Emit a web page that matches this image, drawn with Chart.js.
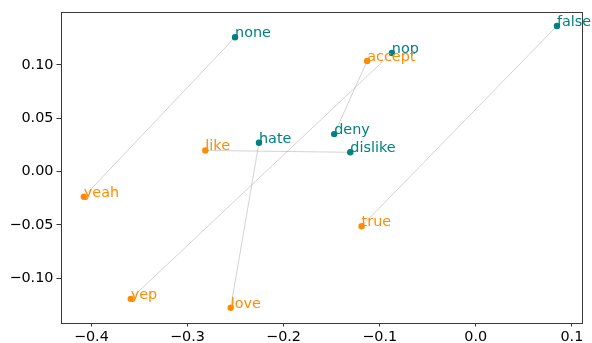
<!DOCTYPE html>
<html>
<head>
<meta charset="utf-8">
<script src="https://cdn.jsdelivr.net/npm/chart.js@4/dist/chart.umd.min.js"></script>
<style>
html,body{margin:0;padding:0;background:#fff;}
canvas{display:block;}
</style>
</head>
<body>
<canvas id="c" width="592" height="343"></canvas>
<script>
const words = ["none","false","nop","deny","hate","dislike","accept","like","yeah","true","yep","love"];
const xs = [-0.2505, 0.0845, -0.0873, -0.1473, -0.2256, -0.1306, -0.1130, -0.2814, -0.4078, -0.1188, -0.3590, -0.2550];
const ys = [0.1260, 0.1366, 0.1113, 0.0352, 0.0271, 0.0181, 0.1038, 0.0199, -0.0235, -0.0512, -0.1193, -0.1277];
const groups = ["neg","neg","neg","neg","neg","neg","pos","pos","pos","pos","pos","pos"];
const pairs = [["none","yeah"],["false","true"],["nop","yep"],["accept","deny"],["like","dislike"],["hate","love"]];
const xTicks = [-0.4, -0.3, -0.2, -0.1, 0.0, 0.1];
const yTicks = [-0.10, -0.05, 0.00, 0.05, 0.10];

const colors = {neg: "#008080", pos: "#ff8c00"};
const FONT = "DejaVu Sans";

function pointsOf(g){
  const out = [];
  words.forEach((w,i)=>{ if(groups[i]===g) out.push({x:xs[i], y:ys[i]}); });
  return out;
}
const idx = w => words.indexOf(w);

const datasets = [
  {type:"scatter", data:pointsOf("neg"), backgroundColor:colors.neg, borderColor:colors.neg, pointRadius:3.2, borderWidth:0},
  {type:"scatter", data:pointsOf("pos"), backgroundColor:colors.pos, borderColor:colors.pos, pointRadius:3.2, borderWidth:0}
];
pairs.forEach(p=>{
  const a = idx(p[0]), b = idx(p[1]);
  datasets.push({type:"line", data:[{x:xs[a],y:ys[a]},{x:xs[b],y:ys[b]}], borderColor:"rgba(140,140,140,0.55)", borderWidth:0.7, pointRadius:0, fill:false, tension:0});
});

const fmtMinus = s => s.replace("-", "\u2212");

const labelPlugin = {
  id:"labels",
  afterDatasetsDraw(chart){
    const ctx = chart.ctx, sx = chart.scales.x, sy = chart.scales.y;
    ctx.save();
    ctx.font = "14.4px '" + FONT + "'";
    ctx.textAlign = "left";
    ctx.textBaseline = "alphabetic";
    words.forEach((w,i)=>{
      ctx.fillStyle = colors[groups[i]];
      ctx.fillText(w, sx.getPixelForValue(xs[i]), sy.getPixelForValue(ys[i]));
    });
    ctx.restore();
  }
};
const framePlugin = {
  id:"frame",
  afterDraw(chart){
    const a = chart.chartArea, ctx = chart.ctx;
    ctx.save();
    ctx.strokeStyle = "#3a3a3a";
    ctx.lineWidth = 1;
    ctx.strokeRect(Math.round(a.left)+0.5, Math.round(a.top)+0.5, Math.round(a.right-a.left), Math.round(a.bottom-a.top));
    ctx.restore();
  }
};

new Chart(document.getElementById("c"), {
  data:{datasets},
  options:{
    responsive:false,
    animation:false,
    layout:{padding:{left:0, top:12, right:11, bottom:0}},
    plugins:{legend:{display:false}, tooltip:{enabled:false}},
    scales:{
      x:{
        type:"linear", position:"bottom", min:-0.4321, max:0.1095,
        afterBuildTicks(s){ s.ticks = xTicks.map(v=>({value:v})); },
        afterFit(s){ s.height = 20.5; },
        grid:{drawOnChartArea:false, drawTicks:true, tickLength:4, color:"#333"},
        border:{display:false},
        ticks:{color:"#000", font:{family:FONT, size:14.4}, padding:2, maxRotation:0, autoSkip:false,
          callback:v=>fmtMinus(v.toFixed(1))}
      },
      y:{
        type:"linear", position:"left", min:-0.1415, max:0.1497,
        afterBuildTicks(s){ s.ticks = yTicks.map(v=>({value:v})); },
        afterFit(s){ s.width = 60.5; },
        grid:{drawOnChartArea:false, drawTicks:true, tickLength:4, color:"#333"},
        border:{display:false},
        ticks:{color:"#000", font:{family:FONT, size:14.4}, padding:3, autoSkip:false,
          callback:v=>fmtMinus(v.toFixed(2))}
      }
    }
  },
  plugins:[labelPlugin, framePlugin]
});
</script>
</body>
</html>
